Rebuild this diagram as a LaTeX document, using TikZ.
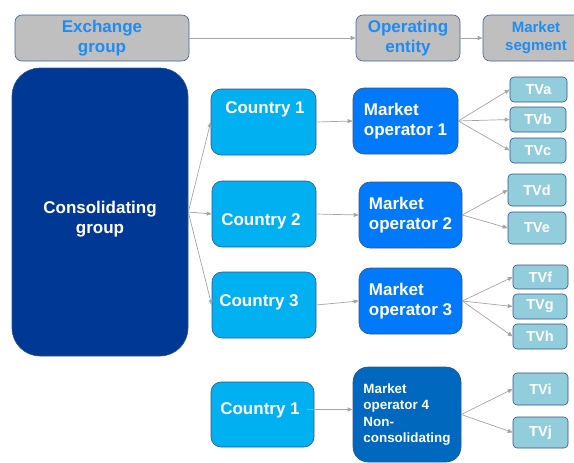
\documentclass[tikz,border=0pt]{standalone}
\usepackage{fontspec}
\setmainfont{Liberation Sans}
\usetikzlibrary{arrows.meta}
\definecolor{hdrfill}{RGB}{191,191,191}
\definecolor{hdrtext}{RGB}{30,140,245}
\definecolor{hdrline}{RGB}{70,100,150}
\definecolor{consfill}{RGB}{0,56,150}
\definecolor{ctryfill}{RGB}{0,176,240}
\definecolor{mofill}{RGB}{0,122,250}
\definecolor{mofourfill}{RGB}{0,104,190}
\definecolor{tvfill}{RGB}{146,205,220}
\definecolor{boxline}{RGB}{50,85,140}
\definecolor{arrowgray}{RGB}{165,165,165}
\begin{document}
\begin{tikzpicture}[x=1pt,y=-1pt,
  sz/.style 2 args={minimum width=#1pt, minimum height=#2pt},
  bigfont/.style={font=\bfseries\fontsize{17}{20.5}\selectfont},
  box/.style={draw=boxline, line width=0.6pt, inner sep=0pt, bigfont, text=white, align=center},
  hdr/.style={box, fill=hdrfill, draw=hdrline, text=hdrtext, rounded corners=7pt},
  cons/.style={box, fill=consfill, rounded corners=28pt},
  ctry/.style={box, fill=ctryfill, rounded corners=10pt},
  lbl/.style={bigfont, text=white, inner sep=0pt, align=center},
  mo/.style={box, fill=mofill, rounded corners=11pt, align=left},
  mofour/.style={box, fill=mofourfill, rounded corners=15pt, align=left, font=\bfseries\fontsize{13.4}{16.3}\selectfont},
  tv/.style={box, fill=tvfill, rounded corners=4pt, font=\bfseries\fontsize{14.5}{17}\selectfont},
  conn/.style={draw=arrowgray, line width=0.7pt, -{Triangle[length=5pt,width=4pt]}}
]
\useasboundingbox (0,0) rectangle (574,463);
\clip (0,0) rectangle (574,463);
\fill[white] (0,0) rectangle (574,463);

% header
\node[hdr, sz={174}{46}] (ex) at (102,38) {Exchange\\group};
\node[hdr, sz={104}{46}] (op) at (408,38) {Operating\\entity};
\node[hdr, sz={106}{46}, font=\bfseries\fontsize{15}{18}\selectfont] (ms) at (536,38) {Market\\segment};

% consolidating group
\node[cons, sz={176}{288}, label={[lbl, yshift=-7pt]center:{Consolidating\\group}}] (cg) at (100,212) {};

% countries
\node[ctry, sz={105}{66}, label={[lbl, xshift=1.5pt, yshift=13pt]center:Country 1}] (c1) at (263.5,122) {};
\node[ctry, sz={104}{66}, label={[lbl, xshift=-3pt, yshift=-7pt]center:Country 2}] (c2) at (264,214) {};
\node[ctry, sz={104}{66}, label={[lbl, xshift=-5pt, yshift=3pt]center:Country 3}] (c3) at (264,305) {};
\node[ctry, sz={103}{65}, label={[lbl, xshift=-2.5pt, yshift=4.5pt]center:Country 1}] (c4) at (262.5,414.5) {};

% market operators
\node[mo, sz={105}{66}] (m1) at (405.5,121) {Market\\operator 1};
\node[mo, sz={103}{66}] (m2) at (410.5,215) {Market\\operator 2};
\node[mo, sz={103}{66}] (m3) at (410.5,301) {Market\\operator 3};
\node[mofour, sz={108}{95}] (m4) at (407,414.5) {Market\\operator 4\\Non-\\consolidating};

% market segments
\node[tv, sz={57}{25}] (ta) at (538.5,89.5) {TVa};
\node[tv, sz={56}{25}] (tb) at (538,119.5) {TVb};
\node[tv, sz={56}{25}] (tc) at (538,150.5) {TVc};
\node[tv, sz={58}{32}] (td) at (537,190) {TVd};
\node[tv, sz={58}{32}] (te) at (537,228) {TVe};
\node[tv, sz={55}{24}] (tf) at (540.5,277) {TVf};
\node[tv, sz={54}{25}] (tg) at (540,306.5) {TVg};
\node[tv, sz={54}{25}] (th) at (540,336.5) {TVh};
\node[tv, sz={55}{32}] (ti) at (540.5,389) {TVi};
\node[tv, sz={55}{31}] (tj) at (540.5,432.5) {TVj};

% connectors
\draw[conn] (ex.east) -- (op.west);
\draw[conn] (op.east) -- (ms.west);
\draw[conn] (cg.east) -- (c1.west);
\draw[conn] (cg.east) -- (c2.west);
\draw[conn] (cg.east) -- (c3.west);
\draw[conn] (c1.east) -- (m1.west);
\draw[conn] (c2.east) -- (m2.west);
\draw[conn] (c3.east) -- (m3.west);
\draw[conn] ([xshift=-7pt,yshift=5pt]c4.east) -- ([yshift=5pt]m4.west);
\draw[conn] (m1.east) -- (ta.west);
\draw[conn] (m1.east) -- (tb.west);
\draw[conn] (m1.east) -- (tc.west);
\draw[conn] (m2.east) -- (td.west);
\draw[conn] (m2.east) -- (te.west);
\draw[conn] (m3.east) -- (tf.west);
\draw[conn] (m3.east) -- (tg.west);
\draw[conn] (m3.east) -- (th.west);
\draw[conn] (m4.east) -- (ti.west);
\draw[conn] (m4.east) -- (tj.west);
\end{tikzpicture}
\end{document}
